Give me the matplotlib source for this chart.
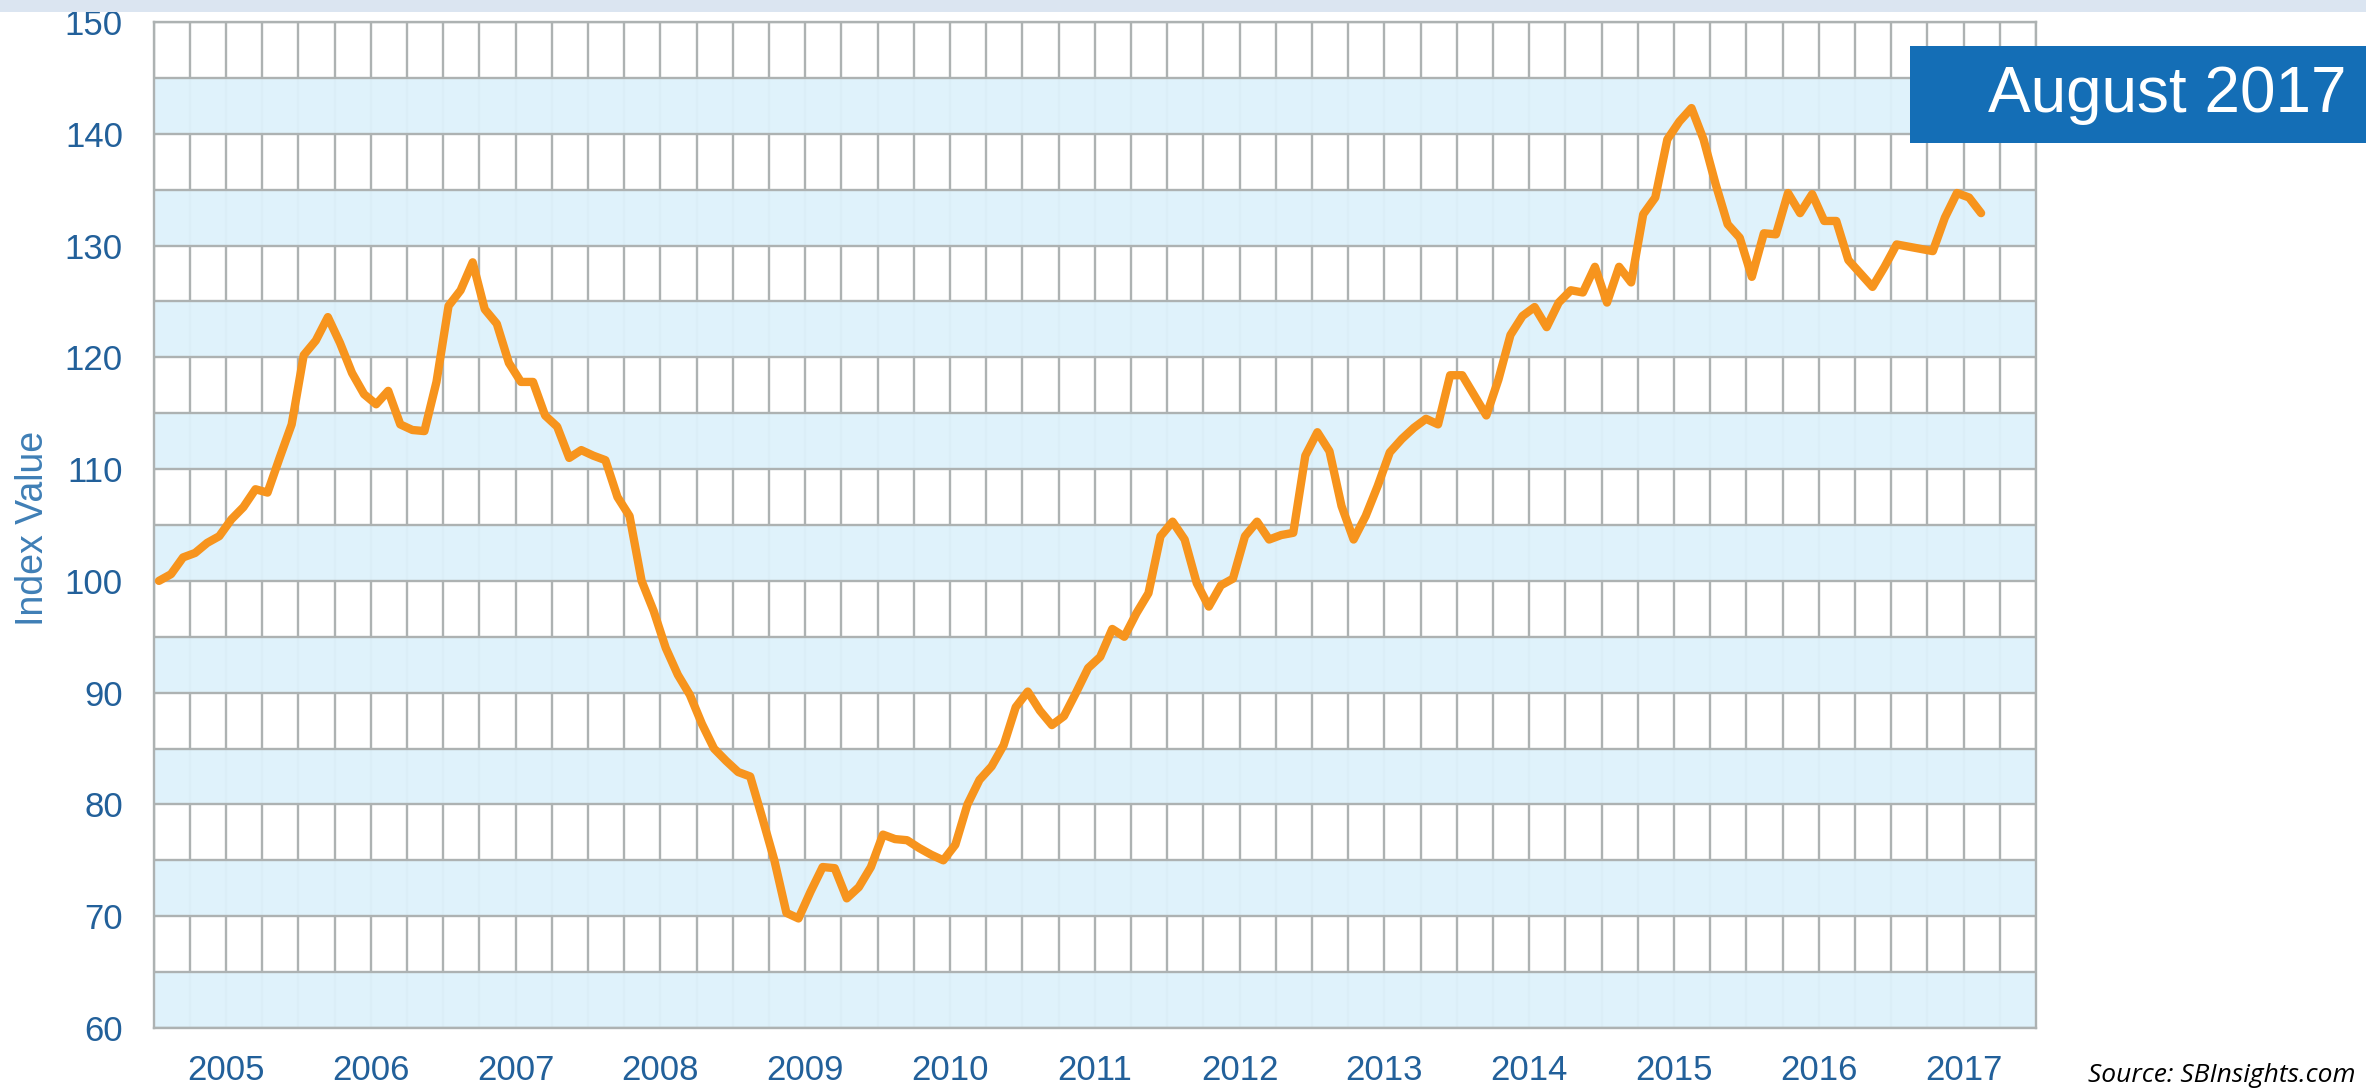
import numpy as np
import matplotlib
matplotlib.use("Agg")
import matplotlib.pyplot as plt
from matplotlib.patches import Rectangle

# monthly index values, Jan 2005 = 100
vals_2005 = [100.0, 100.6, 102.1, 102.5, 103.4, 104.0, 105.5, 106.6, 108.2, 107.9, 111.0, 114.0]
vals_2006 = [120.2, 121.5, 123.6, 121.3, 118.6, 116.7, 115.8, 117.0, 114.0, 113.5, 113.4, 117.8]
vals_2007 = [124.6, 126.0, 128.5, 124.3, 123.0, 119.5, 117.8, 117.8, 114.8, 113.8, 111.0, 111.7]
vals_2008 = [111.2, 110.8, 107.5, 105.8, 100.0, 97.3, 94.0, 91.6, 89.8, 87.2, 85.0, 83.9]
vals_2009 = [82.9, 82.5, 78.8, 75.0, 70.3, 69.8, 72.2, 74.4, 74.3, 71.6, 72.6, 74.4]
vals_2010 = [77.3, 76.9, 76.8, 76.1, 75.5, 75.0, 76.4, 80.0, 82.2, 83.4, 85.3, 88.7]
vals_2011 = [90.1, 88.4, 87.1, 87.9, 90.0, 92.2, 93.2, 95.7, 95.0, 97.1, 98.9, 104.0]
vals_2012 = [105.3, 103.7, 99.8, 97.7, 99.6, 100.2, 104.0, 105.3, 103.7, 104.1, 104.3, 111.2]
vals_2013 = [113.3, 111.6, 106.7, 103.7, 105.8, 108.5, 111.5, 112.7, 113.7, 114.5, 114.0, 118.4]
vals_2014 = [118.4, 116.6, 114.8, 118.0, 122.0, 123.7, 124.5, 122.7, 124.9, 126.0, 125.8, 128.1]
vals_2015 = [124.9, 128.1, 126.7, 132.8, 134.3, 139.5, 141.1, 142.3, 139.5, 135.5, 131.9, 130.7]
vals_2016 = [127.2, 131.1, 131.0, 134.7, 132.9, 134.6, 132.2, 132.2, 128.7, 127.5, 126.3, 128.1]
vals_2017 = [130.1, 129.9, 129.7, 129.5, 132.5, 134.7, 134.3, 132.9]

years = list(range(2005, 2018))
year_labels = [str(y) for y in years]
y_ticks = list(range(60, 151, 10))

values = np.array(vals_2005 + vals_2006 + vals_2007 + vals_2008 + vals_2009 + vals_2010 +
                  vals_2011 + vals_2012 + vals_2013 + vals_2014 + vals_2015 + vals_2016 + vals_2017)
x = 2005 + (np.arange(len(values)) + 0.45) / 12.0

plt.rcParams['font.family'] = ['Liberation Sans', 'DejaVu Sans']

W, H = 2366, 1090
fig = plt.figure(figsize=(W / 100, H / 100), dpi=100)
fig.patch.set_facecolor('white')

# thin strip along the top
fig.patches.append(Rectangle((0, 1 - 12 / H), 1, 12 / H, transform=fig.transFigure,
                             facecolor='#dbe5f1', edgecolor='none', zorder=0))

left, right, top, bottom = 153.5, 2036, 22, 1028
ax = fig.add_axes([left / W, 1 - bottom / H, (right - left) / W, (bottom - top) / H])
ax.set_xlim(2005, 2018)
ax.set_ylim(60, 150)

grid_col = '#adb2b2'
# quarterly vertical grid
for q in np.arange(2005, 2018.01, 0.25):
    ax.axvline(q, color=grid_col, lw=1.7, zorder=1)
# light blue bands
for b in range(60, 150, 10):
    ax.axhspan(b, b + 5, facecolor='#def2fb', edgecolor='none', alpha=0.95, zorder=2)
for h in range(60, 151, 5):
    ax.axhline(h, color=grid_col, lw=1.7, zorder=3)

ax.plot(x, values, color='#f7941d', lw=6, solid_joinstyle='round',
        solid_capstyle='round', zorder=5)

for s in ax.spines.values():
    s.set_color(grid_col)
    s.set_linewidth(1.7)
    s.set_zorder(4)

tick_col = '#22609a'
ax.set_xticks([y + 0.5 for y in years])
ax.set_xticklabels(year_labels)
ax.set_yticks(y_ticks)
ax.set_yticklabels([str(v) for v in y_ticks])
ax.tick_params(axis='both', length=0, labelsize=25, labelcolor=tick_col)
ax.tick_params(axis='y', pad=22)
ax.tick_params(axis='x', pad=19)

fig.text(33 / W, 1 - 528 / H, 'Index Value', rotation=90, ha='center', va='center',
         fontsize=27, color='#3f7fb6')

# date box in the upper right
fig.patches.append(Rectangle((1910 / W, 1 - 143 / H), (W - 1910) / W, 97 / H,
                             transform=fig.transFigure, facecolor='#146eb6',
                             edgecolor='none', zorder=10))
fig.text(2346 / W, 1 - 95 / H, 'August 2017', ha='right', va='center',
         fontsize=46, color='white', zorder=11)

fig.text(2356 / W, 1 - 1082 / H, 'Source: SBInsights.com', ha='right', va='baseline',
         fontsize=19, style='italic', family=['Open Sans', 'DejaVu Sans'], color='black')

fig.savefig('out.png', dpi=100)
